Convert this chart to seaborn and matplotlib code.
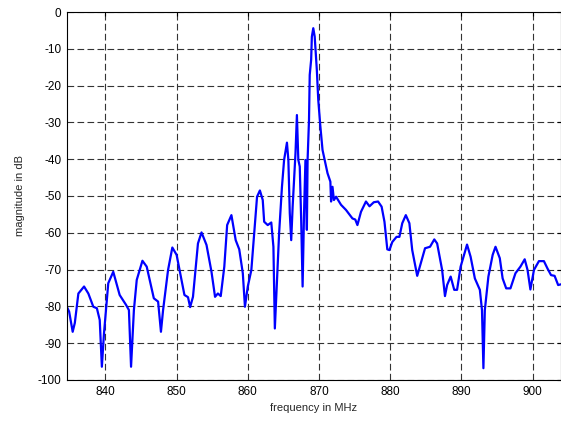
import matplotlib
matplotlib.use('Agg')
import matplotlib.pyplot as plt
import seaborn as sns
import pandas as pd

# frequency response (MHz, dB)
freq_mhz = [
    834.6, 834.9, 835.4, 835.7, 836.2, 837.0, 837.6, 838.3, 838.8, 839.2,
    839.5, 839.8, 840.4, 841.1, 842.0, 842.9, 843.3, 843.6, 844.0, 844.4,
    845.2, 845.8, 846.8, 847.4, 847.8, 848.1, 848.8, 849.4, 850.0, 851.1,
    851.6, 851.9, 852.3, 853.0, 853.5, 854.2, 854.9, 855.4, 855.8, 856.2,
    856.7, 857.1, 857.7, 858.3, 858.8, 859.3, 859.6, 860.0, 860.5, 860.9,
    861.3, 861.7, 862.1, 862.3, 862.8, 863.3, 863.6, 863.8, 864.1, 864.4,
    864.8, 865.1, 865.5, 865.7, 865.9, 866.1, 866.3, 866.5, 866.7, 866.9,
    867.1, 867.3, 867.5, 867.7, 867.9, 868.1, 868.2, 868.3, 868.4, 868.6,
    868.7, 868.9, 869.0, 869.2, 869.4, 869.7, 869.9, 870.2, 870.5, 870.9,
    871.2, 871.6, 871.7, 871.9, 872.1, 872.4, 873.1, 873.8, 874.7, 875.1,
    875.4, 875.9, 876.6, 877.1, 877.7, 878.3, 878.8, 879.2, 879.6, 879.9,
    880.3, 880.9, 881.3, 881.7, 882.2, 882.7, 883.1, 883.8, 884.3, 884.9,
    885.6, 886.2, 886.6, 887.3, 887.7, 888.0, 888.5, 889.0, 889.4, 889.9,
    890.8, 891.3, 891.9, 892.6, 892.9, 893.1, 893.3, 893.8, 894.4, 894.8,
    895.4, 895.8, 896.3, 896.9, 897.6, 898.3, 898.9, 899.3, 899.7, 900.2,
    900.9, 901.6, 902.1, 902.6, 903.1, 903.6, 904.0,
]
magnitude_db = [
    -80.2, -81.4, -86.9, -84.5, -76.5, -74.6, -76.5, -80.1, -80.5, -83.7,
    -96.4, -87.3, -73.7, -70.6, -76.9, -79.6, -81.0, -96.4, -81.0, -72.8,
    -67.6, -69.2, -77.8, -78.7, -86.9, -81.0, -70.1, -64.0, -66.0, -76.9,
    -77.5, -80.2, -77.4, -62.9, -59.9, -63.3, -70.6, -77.4, -76.5, -77.2,
    -69.2, -57.9, -55.2, -62.0, -64.5, -71.0, -80.1, -74.6, -70.1, -60.1,
    -50.2, -48.5, -51.1, -57.0, -57.9, -57.2, -63.8, -86.0, -72.8, -60.1,
    -47.5, -40.2, -35.5, -40.2, -54.7, -62.0, -52.9, -45.7, -38.4, -28.0,
    -40.2, -42.0, -56.5, -74.6, -54.7, -40.2, -49.3, -59.2, -40.2, -29.3,
    -17.1, -13.0, -6.7, -4.4, -6.7, -15.8, -23.9, -31.2, -37.5, -41.1,
    -43.8, -46.1, -51.5, -47.5, -51.1, -50.2, -52.4, -53.8, -56.1, -56.4,
    -57.9, -54.3, -51.5, -52.8, -51.7, -51.5, -52.9, -57.0, -64.5, -64.7,
    -62.5, -61.1, -61.1, -57.4, -55.2, -57.4, -64.7, -71.7, -68.3, -64.2,
    -63.8, -61.8, -62.9, -70.1, -77.2, -74.2, -71.9, -75.5, -75.5, -69.2,
    -63.2, -66.5, -72.4, -75.5, -81.0, -96.8, -81.0, -71.9, -66.0, -63.8,
    -66.9, -72.4, -75.1, -75.1, -71.0, -69.2, -67.2, -70.1, -75.4, -70.1,
    -67.7, -67.7, -69.7, -71.5, -71.7, -74.2, -74.0,
]
x_ticks = [840, 850, 860, 870, 880, 890, 900]
y_ticks = [0, -10, -20, -30, -40, -50, -60, -70, -80, -90, -100]

df = pd.DataFrame({'freq': freq_mhz, 'mag': magnitude_db})

sns.set_style('white')
plt.rcParams['font.family'] = ['Liberation Sans', 'DejaVu Sans']
plt.rcParams['axes.unicode_minus'] = False

fig = plt.figure(figsize=(5.61, 4.23), dpi=100)
ax = fig.add_axes([0.1194, 0.1017, 0.8806, 0.8699])

sns.lineplot(data=df, x='freq', y='mag', ax=ax, color='#0000ff',
             linewidth=1.6, estimator=None, sort=False,
             solid_joinstyle='round', solid_capstyle='round')

ax.set_xlim(834.6, 904.0)
ax.set_ylim(-100, 0)
ax.set_xticks(x_ticks)
ax.set_yticks(y_ticks)
ax.grid(True, color='0.2', linestyle=(0, (6, 3)), linewidth=0.8)
ax.tick_params(direction='in', length=3, labelsize=8.5, colors='black',
               top=True, right=True, pad=4)
for s in ax.spines.values():
    s.set_color('black')
    s.set_linewidth(0.8)

ax.set_xlabel('frequency in MHz', fontsize=8, labelpad=4)
ax.set_ylabel('magnitude in dB', fontsize=8, labelpad=9)

fig.savefig('out.png', dpi=100)
